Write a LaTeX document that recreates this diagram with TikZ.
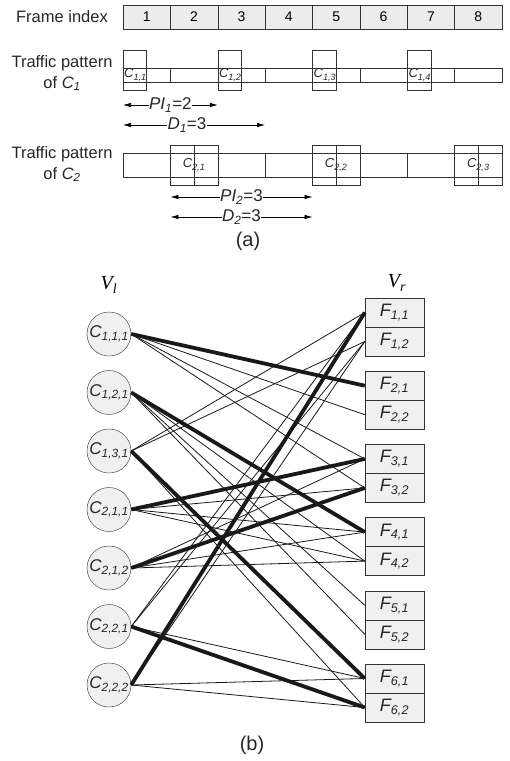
\documentclass[tikz,border=0pt]{standalone}
\usepackage{fontspec}
\setmainfont{Liberation Sans}
\newfontfamily\timesfont{Liberation Serif}
\usepackage{tikz}
\usetikzlibrary{arrows.meta}

\begin{document}
\begin{tikzpicture}[x=1pt, y=-1pt,
        cell/.style={draw=black!80, fill=gray!15, minimum width=47.4pt, minimum height=24pt, inner sep=0pt, font=\fontsize{14}{16}\selectfont},
        slotA/.style={draw=black!80, minimum width=47.4pt, minimum height=14pt, inner sep=0pt},
        slotB/.style={draw=black!80, minimum width=47.4pt, minimum height=24pt, inner sep=0pt},
        pktA/.style={draw=black!80, minimum width=23.7pt, minimum height=40pt, inner sep=0pt},
        pktB/.style={draw=black!80, minimum width=47.4pt, minimum height=40pt, inner sep=0pt},
        pkttext/.style={inner sep=0pt, font=\fontsize{13}{15}\selectfont\itshape, text=black!85},
        rowlabel/.style={align=center, font=\fontsize{16.5}{21}\selectfont, text=black!85},
        dim/.style={{Latex[length=8pt,width=4.5pt]}-{Latex[length=8pt,width=4.5pt]}, line width=0.7pt},
        dimlabel/.style={fill=white, inner sep=0.5pt, font=\fontsize{17}{19}\selectfont, text=black!85},
        flow/.style={circle, draw=black!80, fill=gray!12, minimum size=44pt, inner sep=0pt, font=\fontsize{17}{19}\selectfont\itshape, text=black!85},
        slotbox/.style={draw=black!80, fill=gray!12, minimum width=59pt, minimum height=29pt, inner sep=0pt, font=\fontsize{18}{20}\selectfont\itshape, text=black!85},
        edge/.style={black!90, line width=0.8pt},
        match/.style={black!90, line width=3.8pt},
        caption/.style={font=\fontsize{20}{22}\selectfont, text=black!85}
    ]
    \useasboundingbox (0,0) rectangle (510,761);

    % Frame index
    \node[rowlabel] (frameLabel) at (62,17) {Frame index};
    \node[cell] (frame1) at (146.69,17) {1};
    \node[cell] (frame2) at (194.06,17) {2};
    \node[cell] (frame3) at (241.44,17) {3};
    \node[cell] (frame4) at (288.81,17) {4};
    \node[cell] (frame5) at (336.19,17) {5};
    \node[cell] (frame6) at (383.56,17) {6};
    \node[cell] (frame7) at (430.94,17) {7};
    \node[cell] (frame8) at (478.31,17) {8};

    % Traffic pattern of C1
    \node[rowlabel] (patternOneLabel) at (62,73) {Traffic pattern\\of \textit{C\textsubscript{1}}};
    \node[slotA] (rowOne1) at (146.69,75) {};
    \node[slotA] (rowOne2) at (194.06,75) {};
    \node[slotA] (rowOne3) at (241.44,75) {};
    \node[slotA] (rowOne4) at (288.81,75) {};
    \node[slotA] (rowOne5) at (336.19,75) {};
    \node[slotA] (rowOne6) at (383.56,75) {};
    \node[slotA] (rowOne7) at (430.94,75) {};
    \node[slotA] (rowOne8) at (478.31,75) {};
    \node[pktA] (pktOneA) at (134.84,70) {};
    \node[pktA] (pktOneB) at (229.59,70) {};
    \node[pktA] (pktOneC) at (324.34,70) {};
    \node[pktA] (pktOneD) at (419.09,70) {};
    \node[pkttext, anchor=west] (txtOneA) at (124,75) {C\textsubscript{1,1}};
    \node[pkttext, anchor=west] (txtOneB) at (218.8,75) {C\textsubscript{1,2}};
    \node[pkttext, anchor=west] (txtOneC) at (313.5,75) {C\textsubscript{1,3}};
    \node[pkttext, anchor=west] (txtOneD) at (408.3,75) {C\textsubscript{1,4}};

    \coordinate (piOneL) at (123,105);
    \coordinate (piOneR) at (217.75,105);
    \coordinate (dOneL) at (123,125);
    \coordinate (dOneR) at (265.1,125);
    \draw[dim] (piOneL) -- node[dimlabel] {\textit{PI\textsubscript{1}}=2} (piOneR);
    \draw[dim] (dOneL) -- node[dimlabel, pos=0.45] {\textit{D\textsubscript{1}}=3} (dOneR);

    % Traffic pattern of C2
    \node[rowlabel] (patternTwoLabel) at (62,164) {Traffic pattern\\of \textit{C\textsubscript{2}}};
    \node[slotB] (rowTwo1) at (146.69,165) {};
    \node[slotB] (rowTwo2) at (194.06,165) {};
    \node[slotB] (rowTwo3) at (241.44,165) {};
    \node[slotB] (rowTwo4) at (288.81,165) {};
    \node[slotB] (rowTwo5) at (336.19,165) {};
    \node[slotB] (rowTwo6) at (383.56,165) {};
    \node[slotB] (rowTwo7) at (430.94,165) {};
    \node[slotB] (rowTwo8) at (478.31,165) {};
    \node[pktB] (pktTwoA) at (194.06,165) {};
    \node[pktB] (pktTwoB) at (336.19,165) {};
    \node[pktB] (pktTwoC) at (478.31,165) {};
    \draw[black!80] (pktTwoA.north) -- (pktTwoA.south);
    \draw[black!80] (pktTwoB.north) -- (pktTwoB.south);
    \draw[black!80] (pktTwoC.north) -- (pktTwoC.south);
    \node[pkttext] (txtTwoA) at (194.06,165) {C\textsubscript{2,1}};
    \node[pkttext] (txtTwoB) at (336.19,165) {C\textsubscript{2,2}};
    \node[pkttext] (txtTwoC) at (478.31,165) {C\textsubscript{2,3}};

    \coordinate (piTwoL) at (170.4,197);
    \coordinate (piTwoR) at (312.5,197);
    \coordinate (dTwoL) at (170.4,217);
    \coordinate (dTwoR) at (312.5,217);
    \draw[dim] (piTwoL) -- node[dimlabel] {\textit{PI\textsubscript{2}}=3} (piTwoR);
    \draw[dim] (dTwoL) -- node[dimlabel] {\textit{D\textsubscript{2}}=3} (dTwoR);

    \node[caption] (capA) at (248,241) {(a)};

    % Vertices
    \node[font=\fontsize{20}{22}\selectfont\timesfont\itshape] (vl) at (109,285) {V\textsubscript{l}};
    \node[font=\fontsize{20}{22}\selectfont\timesfont\itshape] (vr) at (397,283) {V\textsubscript{r}};

    \node[flow] (c111) at (109,334) {C\textsubscript{1,1,1}};
    \node[flow] (c121) at (109,392.5) {C\textsubscript{1,2,1}};
    \node[flow] (c131) at (109,451) {C\textsubscript{1,3,1}};
    \node[flow] (c211) at (109,509.5) {C\textsubscript{2,1,1}};
    \node[flow] (c212) at (109,568) {C\textsubscript{2,1,2}};
    \node[flow] (c221) at (109,626.5) {C\textsubscript{2,2,1}};
    \node[flow] (c222) at (109,685) {C\textsubscript{2,2,2}};

    \node[slotbox] (f11) at (394.5,312.5) {F\textsubscript{1,1}};
    \node[slotbox] (f12) at (394.5,341.5) {F\textsubscript{1,2}};
    \node[slotbox] (f21) at (394.5,385.7) {F\textsubscript{2,1}};
    \node[slotbox] (f22) at (394.5,414.7) {F\textsubscript{2,2}};
    \node[slotbox] (f31) at (394.5,458.9) {F\textsubscript{3,1}};
    \node[slotbox] (f32) at (394.5,487.9) {F\textsubscript{3,2}};
    \node[slotbox] (f41) at (394.5,532.1) {F\textsubscript{4,1}};
    \node[slotbox] (f42) at (394.5,561.1) {F\textsubscript{4,2}};
    \node[slotbox] (f51) at (394.5,605.3) {F\textsubscript{5,1}};
    \node[slotbox] (f52) at (394.5,634.3) {F\textsubscript{5,2}};
    \node[slotbox] (f61) at (394.5,678.5) {F\textsubscript{6,1}};
    \node[slotbox] (f62) at (394.5,707.5) {F\textsubscript{6,2}};

    % Edges
    \draw[edge] (c111.east) -- (f22.west);
    \draw[edge] (c111.east) -- (f31.west);
    \draw[edge] (c111.east) -- (f32.west);

    \draw[edge] (c121.east) -- (f42.west);
    \draw[edge] (c121.east) -- (f51.west);
    \draw[edge] (c121.east) -- (f52.west);

    \draw[edge] (c131.east) -- (f11.west);
    \draw[edge] (c131.east) -- (f12.west);
    \draw[edge] (c131.east) -- (f62.west);

    \draw[edge] (c211.east) -- (f32.west);
    \draw[edge] (c211.east) -- (f41.west);
    \draw[edge] (c211.east) -- (f42.west);

    \draw[edge] (c212.east) -- (f31.west);
    \draw[edge] (c212.east) -- (f41.west);
    \draw[edge] (c212.east) -- (f42.west);

    \draw[edge] (c221.east) -- (f11.west);
    \draw[edge] (c221.east) -- (f12.west);
    \draw[edge] (c221.east) -- (f61.west);

    \draw[edge] (c222.east) -- (f12.west);
    \draw[edge] (c222.east) -- (f61.west);
    \draw[edge] (c222.east) -- (f62.west);

    % Matching
    \draw[match] (c111.east) -- (f21.west);
    \draw[match] (c121.east) -- (f41.west);
    \draw[match] (c131.east) -- (f61.west);
    \draw[match] (c211.east) -- (f31.west);
    \draw[match] (c212.east) -- (f32.west);
    \draw[match] (c221.east) -- (f62.west);
    \draw[match] (c222.east) -- (f11.west);

    \node[caption] (capB) at (252,745) {(b)};
\end{tikzpicture}
\end{document}
